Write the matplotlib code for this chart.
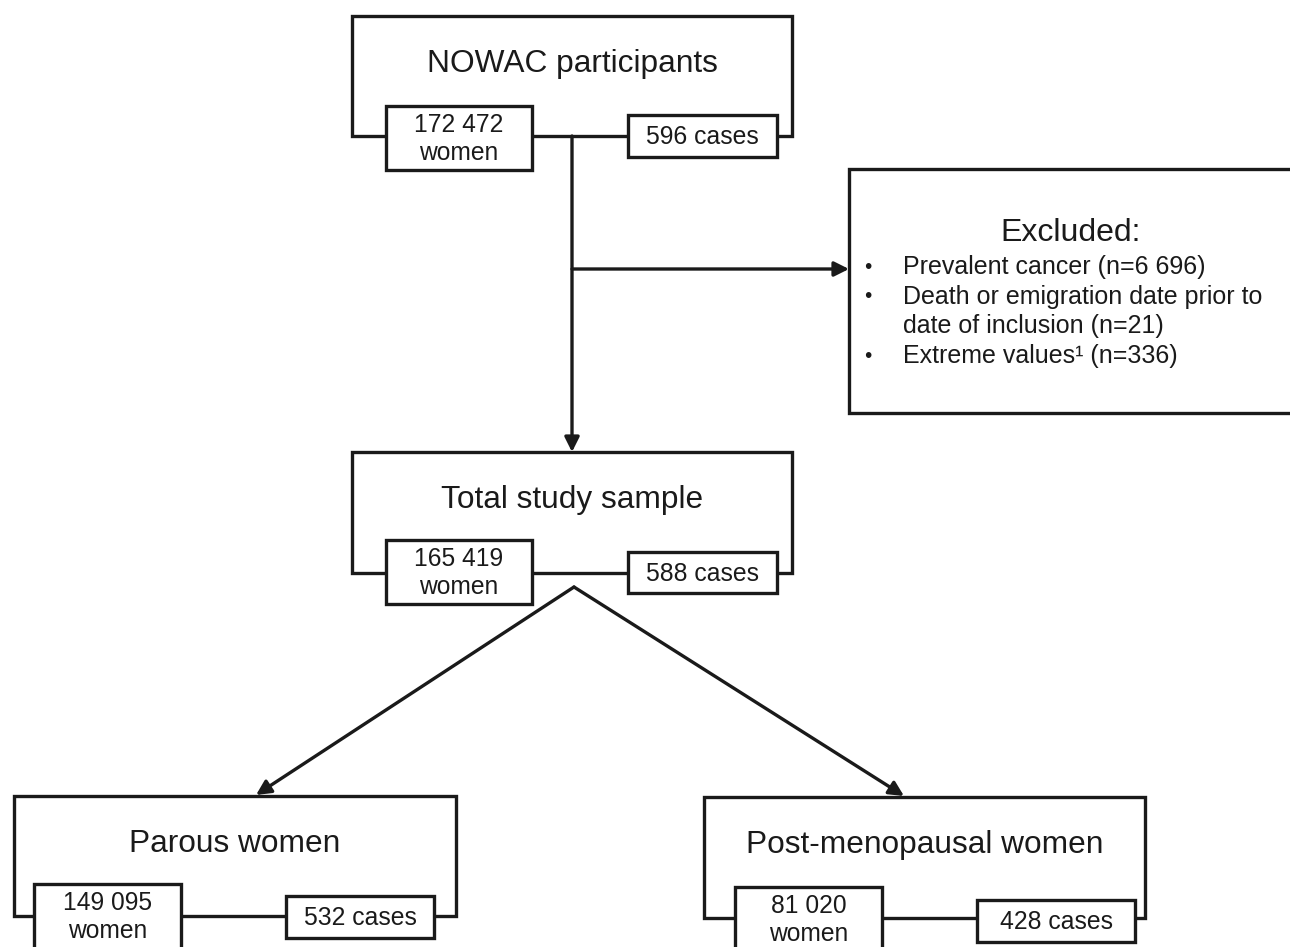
import matplotlib.pyplot as plt
from matplotlib.patches import Rectangle

plt.rcParams['font.family'] = ['Liberation Sans', 'DejaVu Sans']

# flowchart content
node_titles = ["NOWAC participants", "Total study sample", "Parous women", "Post-menopausal women"]
node_women = ["172 472", "165 419", "149 095", "81 020"]
node_cases = [596, 588, 532, 428]

excluded_title = "Excluded:"
excluded_items = ["Prevalent cancer (n=6 696)",
                  "Death or emigration date prior to\ndate of inclusion (n=21)",
                  "Extreme values\u00b9 (n=336)"]

# layout in pixel units (x left, y top, w, h): outer frame, women box, cases box
outer = [(352, 16, 440, 120), (352, 452, 440, 121), (14, 796, 442, 120), (704, 797, 441, 121)]
women_box = [(386, 106, 146, 64), (386, 540, 146, 64), (34, 884, 147, 70), (735, 887, 147, 70)]
cases_box = [(628, 115, 149, 42), (628, 552, 149, 41), (286, 896, 148, 42), (977, 900, 158, 42)]

LW = 2.4
C = '#1a1a1a'

fig = plt.figure(figsize=(12.9, 9.47), dpi=100)
ax = fig.add_axes([0, 0, 1, 1])
ax.set_xlim(0, 1290)
ax.set_ylim(947, 0)
ax.axis('off')


def box(x, y, w, h, z=2):
    ax.add_patch(Rectangle((x, y), w, h, facecolor='white', edgecolor=C, lw=LW, zorder=z))


for i in range(len(node_titles)):
    ox, oy, ow, oh = outer[i]
    box(ox, oy, ow, oh, z=2)
    ax.text(ox + ow / 2, oy + 48, node_titles[i], ha='center', va='center', fontsize=22.8, color=C, zorder=5)
    wx, wy, ww, wh = women_box[i]
    box(wx, wy, ww, wh, z=3)
    ax.text(wx + ww / 2, wy + 33, node_women[i] + "\nwomen", ha='center', va='center', fontsize=17.7,
            color=C, linespacing=1.2, zorder=5)
    cx, cy, cw, ch = cases_box[i]
    box(cx, cy, cw, ch, z=3)
    ax.text(cx + cw / 2, cy + ch / 2 + 1, f"{node_cases[i]} cases", ha='center', va='center', fontsize=17.8,
            color=C, zorder=5)

# excluded box
box(849, 169, 445, 244, z=2)
ax.text(1071, 233, excluded_title, ha='center', va='center', fontsize=23, color=C, zorder=5)
line_y = 267
for item in excluded_items:
    for k, part in enumerate(item.split('\n')):
        if k == 0:
            ax.text(868, line_y, "\u2022", ha='center', va='center', fontsize=15, color=C, zorder=5)
        ax.text(903, line_y, part, ha='left', va='center', fontsize=18, color=C, zorder=5)
        line_y += 29.7

arrow = dict(arrowstyle='-|>', color=C, lw=LW, mutation_scale=22, shrinkA=0, shrinkB=0)
# main vertical arrow
ax.annotate('', xy=(572, 452), xytext=(572, 136), arrowprops=arrow, zorder=4)
# arrow to excluded
ax.annotate('', xy=(849, 269), xytext=(572, 269), arrowprops=arrow, zorder=4)
# split arrows
ax.annotate('', xy=(256, 795), xytext=(574, 587), arrowprops=arrow, zorder=4)
ax.annotate('', xy=(904, 796), xytext=(574, 587), arrowprops=arrow, zorder=4)

fig.savefig('out.png', dpi=100, facecolor='white')
